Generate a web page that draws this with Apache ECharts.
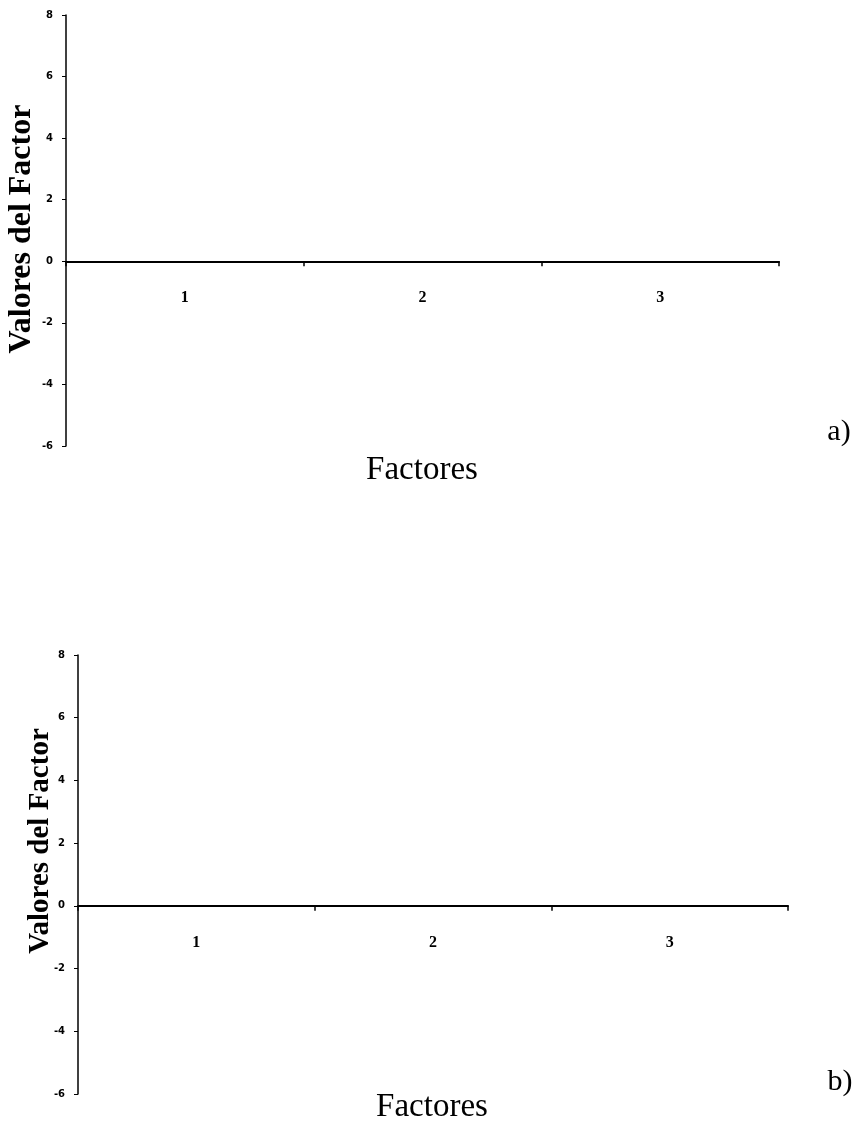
<!DOCTYPE html>
<html>
<head>
<meta charset="utf-8">
<script src="https://cdn.jsdelivr.net/npm/echarts@6/dist/echarts.min.js"></script>
<style>
  html, body { margin: 0; padding: 0; background: #fff; }
  #chart { width: 855px; height: 1126px; }
</style>
</head>
<body>
<div id="chart"></div>
<script>
// Factor numbers along the x axis
const factors = ['1', '2', '3'];
// Factor values for each panel (all lie on the zero line)
const valuesA = [0, 0, 0];
const valuesB = [0, 0, 0];
// Value axis range and step
const yMin = -6;
const yMax = 8;
const yStep = 2;
const yTitle = 'Valores del Factor';
const xTitle = 'Factores';
const panelTags = ['a)', 'b)'];

const serif = '"Liberation Serif", "DejaVu Serif", serif';
const sans = '"DejaVu Sans", sans-serif';

const grids = [
  { left: 66, top: 15, width: 713, height: 431 },
  { left: 78, top: 655, width: 710, height: 439 }
];

const chart = echarts.init(document.getElementById('chart'), null, { renderer: 'canvas' });

// The category axis sits on the zero line, with its labels and ticks moved along with it
function xAxisFor(gridIndex) {
  const g = grids[gridIndex];
  const zeroOffset = -g.height * (0 - yMin) / (yMax - yMin);
  return {
    type: 'category',
    gridIndex: gridIndex,
    data: factors,
    position: 'bottom',
    offset: zeroOffset,
    axisLine: { onZero: false, lineStyle: { color: '#000', width: 2 } },
    axisTick: { show: true, length: 5, lineStyle: { color: '#000', width: 1.5 } },
    axisLabel: { margin: 29, color: '#000', fontFamily: serif, fontWeight: 'bold', fontSize: 16 },
    splitLine: { show: false }
  };
}

function yAxisFor(gridIndex) {
  return {
    type: 'value',
    gridIndex: gridIndex,
    min: yMin,
    max: yMax,
    interval: yStep,
    axisLine: { show: true, onZero: false, lineStyle: { color: '#000', width: 1.5 } },
    axisTick: { show: true, length: 4, lineStyle: { color: '#000', width: 1 } },
    axisLabel: { margin: 13, color: '#000', fontFamily: sans, fontWeight: 'bold', fontSize: 10 },
    splitLine: { show: false }
  };
}

chart.setOption({
  backgroundColor: '#fff',
  animation: false,
  grid: grids,
  xAxis: [xAxisFor(0), xAxisFor(1)],
  yAxis: [yAxisFor(0), yAxisFor(1)],
  series: [
    { type: 'bar', xAxisIndex: 0, yAxisIndex: 0, data: valuesA, itemStyle: { color: '#000' }, barWidth: '40%' },
    { type: 'bar', xAxisIndex: 1, yAxisIndex: 1, data: valuesB, itemStyle: { color: '#000' }, barWidth: '40%' }
  ],
  graphic: [
    // axis titles and panel tags
    { type: 'text', x: 22, y: 229, rotation: Math.PI / 2,
      style: { text: yTitle, font: 'bold 32px ' + serif, fill: '#000', align: 'center', verticalAlign: 'middle' } },
    { type: 'text', x: 422, y: 470,
      style: { text: xTitle, font: '33px ' + serif, fill: '#000', align: 'center', verticalAlign: 'middle' } },
    { type: 'text', x: 839, y: 432,
      style: { text: panelTags[0], font: '30px ' + serif, fill: '#000', align: 'center', verticalAlign: 'middle' } },
    { type: 'text', x: 41, y: 841, rotation: Math.PI / 2,
      style: { text: yTitle, font: 'bold 29px ' + serif, fill: '#000', align: 'center', verticalAlign: 'middle' } },
    { type: 'text', x: 432, y: 1107,
      style: { text: xTitle, font: '33px ' + serif, fill: '#000', align: 'center', verticalAlign: 'middle' } },
    { type: 'text', x: 840, y: 1082,
      style: { text: panelTags[1], font: '30px ' + serif, fill: '#000', align: 'center', verticalAlign: 'middle' } }
  ]
});
</script>
</body>
</html>
